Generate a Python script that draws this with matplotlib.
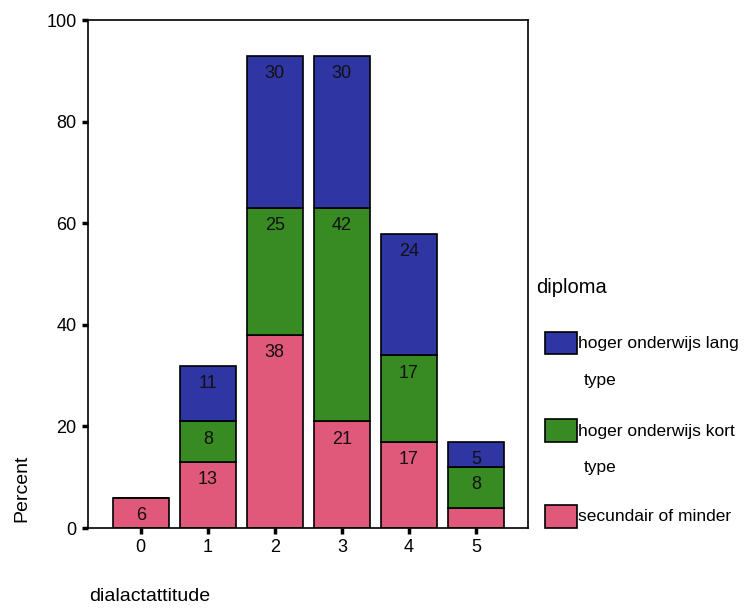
import numpy as np
import matplotlib.pyplot as plt
from matplotlib.patches import Rectangle

plt.rcParams['font.family'] = ['Liberation Sans', 'DejaVu Sans']

# data (percent per dialactattitude score)
categories = [0, 1, 2, 3, 4, 5]
secundair = [6, 13, 38, 21, 17, 4]
kort = [0, 8, 25, 42, 17, 8]
lang = [0, 11, 30, 30, 24, 5]
series_names = ['hoger onderwijs lang\ntype', 'hoger onderwijs kort\ntype', 'secundair of minder']

col_pink = '#e0587a'
col_green = '#388a22'
col_blue = '#2f35a3'

fig = plt.figure(figsize=(7.44, 6.14), dpi=100)
ax = fig.add_axes([0.118, 0.140, 0.592, 0.827])

x = np.array(categories)
bottom = np.zeros(len(x))
stack = [(secundair, col_pink), (kort, col_green), (lang, col_blue)]
for vals, col in stack:
    vals = np.array(vals, dtype=float)
    ax.bar(x, vals, width=0.84, bottom=bottom, color=col, edgecolor='black', linewidth=1.2)
    for xi, b, v in zip(x, bottom, vals):
        if v >= 5:
            ax.text(xi, b + v - 1.8, f'{v:.0f}', ha='center', va='top', fontsize=13, color='#111111')
    bottom += vals

ax.set_xlim(-0.79, 5.78)
ax.set_ylim(0, 100)
ax.set_xticks(categories)
ax.set_yticks([0, 20, 40, 60, 80, 100])
ax.tick_params(axis='both', direction='out', length=4, width=2.5, labelsize=13, pad=4)
for s in ax.spines.values():
    s.set_linewidth(1.2)

fig.text(0.030, 0.205, 'Percent', rotation=90, ha='center', va='center', fontsize=14)
fig.text(0.120, 0.015, 'dialactattitude', ha='left', va='bottom', fontsize=14)

# legend drawn by hand to copy the wrapped SPSS layout
fig.text(0.721, 0.531, 'diploma', ha='left', va='center', fontsize=14.5)
legend_cols = [col_blue, col_green, col_pink]
legend_y = [0.441, 0.298, 0.158]
for name, col, yy in zip(series_names, legend_cols, legend_y):
    fig.patches.append(Rectangle((0.733, yy - 0.018), 0.043, 0.037, transform=fig.transFigure,
                                 facecolor=col, edgecolor='black', linewidth=1.2))
    lines = name.split('\n')
    fig.text(0.777, yy, lines[0], ha='left', va='center', fontsize=12.5)
    if len(lines) > 1:
        fig.text(0.784, yy - 0.060, lines[1], ha='left', va='center', fontsize=12.5)

fig.savefig('out.png', dpi=100)
